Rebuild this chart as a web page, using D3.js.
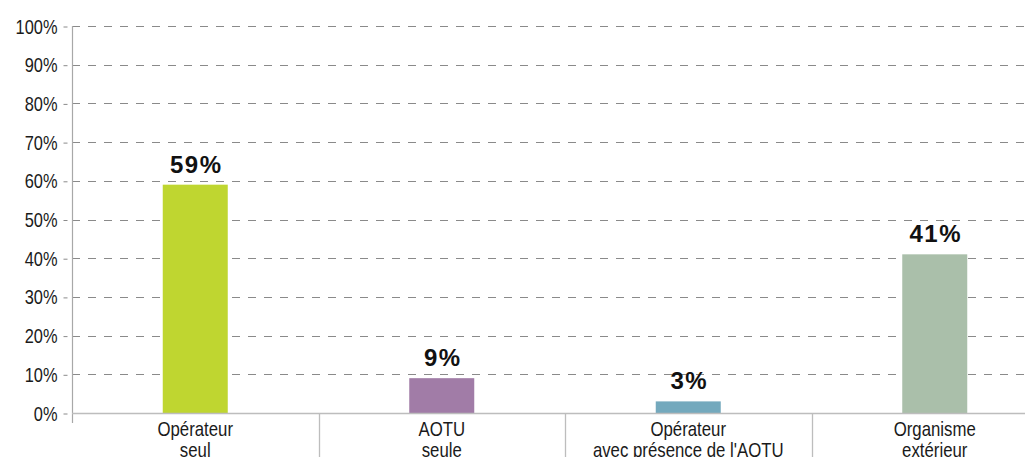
<!DOCTYPE html>
<html>
<head>
<meta charset="utf-8">
<script src="https://cdn.jsdelivr.net/npm/d3@7/dist/d3.min.js"></script>
<style>
  html, body { margin: 0; padding: 0; background: #fff; }
  svg { display: block; }
</style>
</head>
<body>
<svg id="chart" width="1025" height="457"></svg>
<script>
const categories = [["Opérateur", "seul"], ["AOTU", "seule"], ["Opérateur", "avec présence de l'AOTU"], ["Organisme", "extérieur"]];
const values = [59, 9, 3, 41];
const valueLabels = ["59%", "9%", "3%", "41%"];
const colors = ["#bfd630", "#a17ca7", "#74a9bd", "#aabfaa"];
const yTicks = [0, 10, 20, 30, 40, 50, 60, 70, 80, 90, 100];

const svg = d3.select("#chart");
const x0 = 72, x1 = 1058, yTop = 26, yBot = 413;
const sans = "'Liberation Sans', Arial, Helvetica, sans-serif";

const x = d3.scaleBand().domain(d3.range(categories.length)).range([x0, x1]).padding(0);
const y = d3.scaleLinear().domain([0, 100]).range([yBot, yTop]);
const barW = 65;

// gridlines
svg.append("g").selectAll("line").data(yTicks.filter(d => d > 0)).join("line")
  .attr("x1", x0).attr("x2", 1025)
  .attr("y1", d => Math.round(y(d)) + 0.5).attr("y2", d => Math.round(y(d)) + 0.5)
  .attr("stroke", "#8a8a8a").attr("stroke-width", 1)
  .attr("stroke-dasharray", "8,8");

// y axis
const yAxis = d3.axisLeft(y).tickValues(yTicks).tickFormat(d => d + "%").tickSize(0).tickPadding(15);
const gy = svg.append("g").attr("transform", `translate(${x0 + 0.5},0)`).call(yAxis);
gy.select(".domain").remove();
gy.selectAll(".tick text")
  .attr("x", 0).attr("dy", null).attr("y", 0)
  .attr("transform", `translate(-15,7) scale(0.82,1)`)
  .attr("font-family", sans).attr("font-size", 20).attr("fill", "#1a1a1a");
gy.selectAll(".tick").append("line").attr("x1", -9).attr("x2", -5).attr("y1", 0.5).attr("y2", 0.5)
  .attr("stroke", "#8a8a8a").attr("stroke-width", 1);

// y axis line
svg.append("line").attr("x1", x0 + 0.5).attr("x2", x0 + 0.5).attr("y1", yTop).attr("y2", 423)
  .attr("stroke", "#a8a8a8").attr("stroke-width", 1.2);

// bars
svg.append("g").selectAll("rect").data(values).join("rect")
  .attr("x", (d, i) => x(i) + x.bandwidth() / 2 - barW / 2)
  .attr("width", barW)
  .attr("y", d => y(d))
  .attr("height", d => y(0) - y(d))
  .attr("fill", (d, i) => colors[i]);

// baseline
svg.append("line").attr("x1", x0).attr("x2", 1025).attr("y1", yBot + 0.5).attr("y2", yBot + 0.5)
  .attr("stroke", "#bdbdbd").attr("stroke-width", 1.5);

// category separators
svg.append("g").selectAll("line").data(d3.range(1, categories.length)).join("line")
  .attr("x1", i => Math.round(x(i)) + 0.5).attr("x2", i => Math.round(x(i)) + 0.5)
  .attr("y1", yBot).attr("y2", 457)
  .attr("stroke", "#bdbdbd").attr("stroke-width", 1.3);

// value labels
svg.append("g").selectAll("text").data(values).join("text")
  .attr("x", (d, i) => x(i) + x.bandwidth() / 2 + 1)
  .attr("y", d => y(d) - 12)
  .attr("text-anchor", "middle")
  .attr("font-family", sans)
  .attr("font-weight", "bold")
  .attr("font-size", 24)
  .attr("letter-spacing", 1.5)
  .attr("fill", "#111")
  .text((d, i) => valueLabels[i]);

// category labels
const cg = svg.append("g").selectAll("g").data(categories).join("g")
  .attr("transform", (d, i) => `translate(${x(i) + x.bandwidth() / 2},436) scale(0.84,1)`);
cg.selectAll("text").data(d => d).join("text")
  .attr("x", 0)
  .attr("y", (d, j) => j * 21)
  .attr("text-anchor", "middle")
  .attr("font-family", sans)
  .attr("font-size", 20)
  .attr("fill", "#1a1a1a")
  .text(d => d);
</script>
</body>
</html>
